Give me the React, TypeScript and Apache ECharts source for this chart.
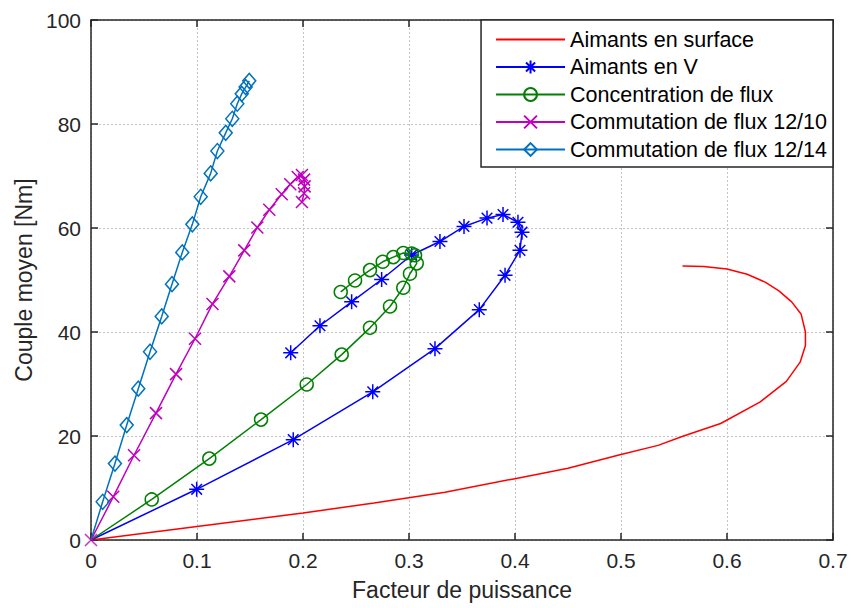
import React, { useEffect, useRef } from "react";
import * as echarts from "echarts";

const xTickValues = [0, 0.1, 0.2, 0.3, 0.4, 0.5, 0.6, 0.7];
const yTickValues = [0, 20, 40, 60, 80, 100];

const seriesNames = [
  "Aimants en surface",
  "Aimants en V",
  "Concentration de flux",
  "Commutation de flux 12/10",
  "Commutation de flux 12/14",
];

const aimantsSurface: [number, number][] = [
  [0, 0], [0.1, 2.6], [0.2, 5.2], [0.267, 7.1], [0.334, 9.2], [0.4, 11.8],
  [0.45, 13.8], [0.499, 16.4], [0.535, 18.2], [0.559, 20.0], [0.594, 22.4],
  [0.631, 26.5], [0.656, 30.5], [0.669, 34.2], [0.674, 37.4], [0.674, 40.0],
  [0.67, 43.4], [0.661, 45.8], [0.649, 47.9], [0.636, 49.6], [0.619, 51.1],
  [0.6, 52.1], [0.578, 52.6], [0.558, 52.7],
];

const aimantsV: [number, number][] = [
  [0, 0], [0.0997, 9.75], [0.1908, 19.3], [0.2658, 28.5], [0.3245, 36.8],
  [0.3663, 44.3], [0.3906, 50.9], [0.4047, 55.7], [0.4066, 59.2], [0.4028, 61.1],
  [0.3887, 62.6], [0.3736, 61.9], [0.3519, 60.3], [0.3292, 57.4], [0.3025, 54.8],
  [0.2742, 50.1], [0.2459, 45.8], [0.216, 41.2], [0.1884, 36.0],
];

const concentrationFlux: [number, number][] = [
  [0, 0], [0.0573, 7.8], [0.1116, 15.65], [0.1604, 23.15], [0.2035, 29.9],
  [0.2365, 35.65], [0.2632, 40.8], [0.2821, 44.9], [0.2946, 48.5], [0.3009, 51.2],
  [0.3073, 53.2], [0.3057, 54.75], [0.3025, 55.1], [0.2946, 55.2], [0.2852, 54.4],
  [0.2752, 53.5], [0.2632, 51.9], [0.2491, 49.9], [0.2356, 47.7],
];

const commutation1210: [number, number][] = [
  [0, 0], [0.021, 8.3], [0.0406, 16.3], [0.0613, 24.4], [0.0802, 31.9],
  [0.0981, 38.7], [0.1146, 45.4], [0.1305, 50.7], [0.1446, 55.7], [0.1569, 60.1],
  [0.1682, 63.5], [0.1799, 66.5], [0.188, 68.4], [0.195, 69.8], [0.199, 70.2],
  [0.201, 69.3], [0.2015, 68.0], [0.201, 66.7], [0.199, 65.0],
];

const commutation1214: [number, number][] = [
  [0, 0], [0.011, 7.35], [0.0226, 14.7], [0.0337, 22.1], [0.0446, 29.1],
  [0.0557, 36.2], [0.0667, 43.0], [0.0764, 49.2], [0.0861, 55.3], [0.0956, 60.7],
  [0.1035, 66.0], [0.1129, 70.5], [0.1192, 74.8], [0.1271, 78.3], [0.1333, 81.0],
  [0.138, 83.9], [0.1422, 85.8], [0.1459, 87.1], [0.1493, 88.3],
];

const ASTERISK = "path://M0,-10L0,10M-10,0L10,0M-7.07,-7.07L7.07,7.07M-7.07,7.07L7.07,-7.07";
const CROSS = "path://M-10,-10L10,10M-10,10L10,-10";
const FONT = "'Liberation Sans', Arial, Helvetica, sans-serif";
const AX = "#262626";
const CLEAR = "rgba(0,0,0,0)";
const MAGENTA = "#bf00bf";

function mkSeries(
  name: string,
  data: [number, number][],
  color: string,
  symbol: string,
  size: number | number[],
  z: number
) {
  return {
    name,
    type: "line",
    data: data.map((p, i) => (i === 0 ? { value: p, symbol: "none" } : p)),
    symbol,
    symbolSize: size,
    showSymbol: symbol !== "none",
    showAllSymbol: true,
    lineStyle: { color, width: 1.5 },
    itemStyle: { color: CLEAR, borderColor: color, borderWidth: 1.5 },
    emphasis: { disabled: true },
    z,
  };
}

export default function App() {
  const ref = useRef<HTMLDivElement>(null);
  useEffect(() => {
    if (!ref.current) return;
    const chart = echarts.init(ref.current, null, { renderer: "svg" });
    const fmt = (v: number) => String(parseFloat(v.toFixed(1)));
    const baseAxis = {
      axisLine: { show: true, onZero: false, lineStyle: { color: AX, width: 1.5 } },
      axisTick: { show: true, inside: true, length: 7, lineStyle: { color: AX, width: 1.5 } },
    };
    chart.setOption({
      animation: false,
      backgroundColor: "#fff",
      textStyle: { fontFamily: FONT },
      grid: { left: 91, right: 18, top: 20, bottom: 68, containLabel: false },
      legend: {
        orient: "vertical",
        right: 18,
        top: 20,
        data: seriesNames.map((n, i) =>
          i === 0 ? { name: n, itemStyle: { color: CLEAR, borderColor: CLEAR, borderWidth: 0 } } : n
        ),
        itemWidth: 69,
        itemHeight: 16,
        itemGap: 5.5,
        padding: [8.5, 6, 6.5, 14],
        borderColor: AX,
        borderWidth: 1.5,
        backgroundColor: "#fff",
        selectedMode: false,
        z: 10,
        textStyle: { fontSize: 21.5, fontFamily: FONT, color: "#000", lineHeight: 21 },
      },
      xAxis: [
        {
          ...baseAxis,
          type: "value",
          min: 0,
          max: 0.7,
          interval: 0.1,
          position: "bottom",
          name: "Facteur de puissance",
          nameLocation: "middle",
          nameGap: 38,
          nameTextStyle: { fontSize: 23, color: AX, fontFamily: FONT },
          axisLabel: { fontSize: 21, color: AX, margin: 10, formatter: fmt, fontFamily: FONT },
          splitLine: { show: true, lineStyle: { color: "#c4c4c4", type: [2, 2], width: 1 } },
        },
        {
          ...baseAxis,
          type: "value",
          min: 0,
          max: 0.7,
          interval: 0.1,
          position: "top",
          axisLabel: { show: false },
          splitLine: { show: false },
        },
      ],
      yAxis: [
        {
          ...baseAxis,
          type: "value",
          min: 0,
          max: 100,
          interval: 20,
          position: "left",
          name: "Couple moyen [Nm]",
          nameLocation: "middle",
          nameGap: 56,
          nameTextStyle: { fontSize: 23, color: AX, fontFamily: FONT },
          axisLabel: { fontSize: 21, color: AX, margin: 10, fontFamily: FONT },
          splitLine: { show: true, lineStyle: { color: "#c4c4c4", type: [2, 2], width: 1 } },
        },
        {
          ...baseAxis,
          type: "value",
          min: 0,
          max: 100,
          interval: 20,
          position: "right",
          axisLabel: { show: false },
          splitLine: { show: false },
        },
      ],
      series: [
        mkSeries(seriesNames[0], aimantsSurface, "#ff0000", "none", 0, 3),
        mkSeries(seriesNames[1], aimantsV, "#0000ff", ASTERISK, 15, 3),
        mkSeries(seriesNames[2], concentrationFlux, "#008000", "circle", 13, 3),
        mkSeries(seriesNames[3], commutation1210, MAGENTA, CROSS, 12, 3),
        mkSeries(seriesNames[4], commutation1214, "#0072bd", "diamond", [13, 15], 3),
        {
          type: "scatter",
          data: [commutation1210[0]],
          symbol: CROSS,
          symbolSize: 12,
          clip: false,
          itemStyle: { color: CLEAR, borderColor: MAGENTA, borderWidth: 1.5 },
          emphasis: { disabled: true },
          silent: true,
          z: 6,
        },
      ],
    });
    return () => chart.dispose();
  }, []);
  return (
    <div
      ref={ref}
      style={{ position: "fixed", left: 0, top: 0, width: 851, height: 608, background: "#fff" }}
    />
  );
}
